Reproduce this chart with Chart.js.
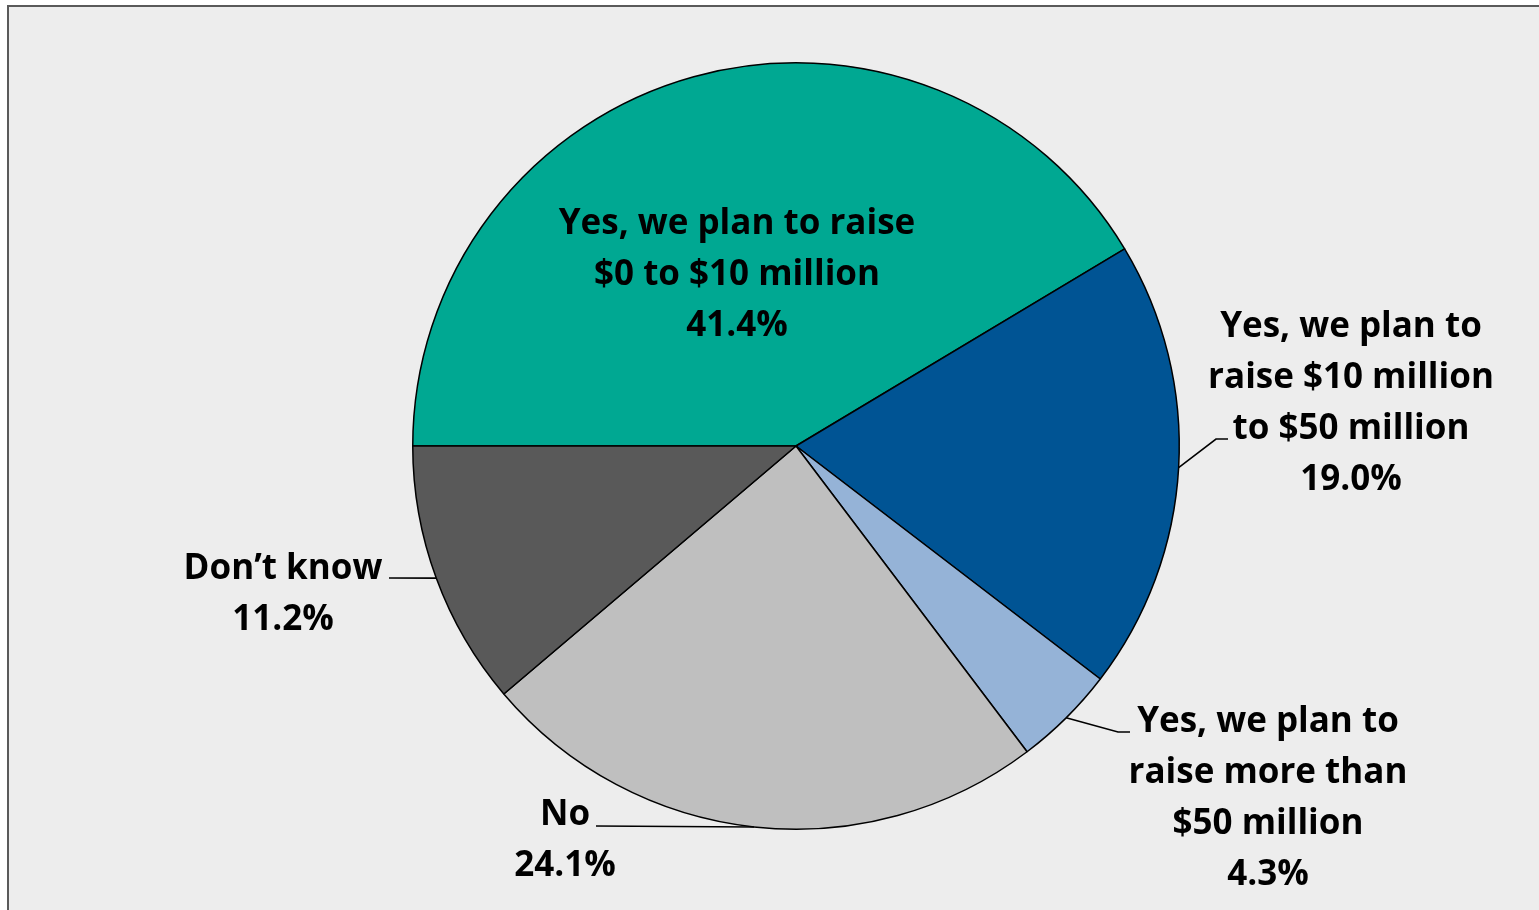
<!DOCTYPE html>
<html lang="en">
<head>
    <meta charset="UTF-8" />
    <title>Capital raising plans</title>
    <script src="https://cdn.jsdelivr.net/npm/chart.js"></script>
    <style>
        html, body {
            margin: 0;
            padding: 0;
            background: #ffffff;
            overflow: hidden;
        }
        .frame {
            position: absolute;
            left: 7px;
            top: 5px;
            width: 1560px;
            height: 940px;
            background: #ededed;
            border-top: 2px solid #5a5a5a;
            border-left: 2px solid #5a5a5a;
        }
        .chart-box {
            position: absolute;
            left: 0;
            top: 0;
            width: 1539px;
            height: 910px;
        }
    </style>
</head>
<body>
    <div class="frame"></div>
    <div class="chart-box">
        <canvas id="plans-chart"></canvas>
    </div>

    <script>
        const categories = [
            ['Yes, we plan to raise', '$0 to $10 million'],
            ['Yes, we plan to', 'raise $10 million', 'to $50 million'],
            ['Yes, we plan to', 'raise more than', '$50 million'],
            ['No'],
            ['Don\u2019t know']
        ];
        const shares = [41.4, 19.0, 4.3, 24.1, 11.2];
        const sliceColors = ['#00a892', '#005494', '#95b3d7', '#bfbfbf', '#595959'];

        // label block centre + optional leader path, all relative to the pie centre
        const labelLayout = [
            { x: -59, y: -171, leader: null },
            { x: 555, y: -42, leader: [[420, -7], [432, -7]] },
            { x: 472, y: 353, leader: [[322, 286], [334, 286]] },
            { x: -231, y: 395, leader: [[-200, 380]] },
            { x: -513, y: 149, leader: [[-407, 132]] }
        ];

        const pieLabels = {
            id: 'pieLabels',
            afterDatasetsDraw(chart) {
                const ctx = chart.ctx;
                const arcs = chart.getDatasetMeta(0).data;
                ctx.save();
                ctx.font = 'bold 35px "Open Sans", "Noto Sans", sans-serif';
                ctx.fillStyle = '#000';
                ctx.strokeStyle = '#000';
                ctx.lineWidth = 1.6;
                ctx.textAlign = 'center';
                ctx.textBaseline = 'middle';
                const lineH = 51;

                arcs.forEach((arc, i) => {
                    const cx = arc.x, cy = arc.y;
                    const lay = labelLayout[i];
                    const lines = categories[i].concat([shares[i].toFixed(1) + '%']);

                    if (lay.leader) {
                        const mid = (arc.startAngle + arc.endAngle) / 2;
                        ctx.beginPath();
                        ctx.moveTo(cx + Math.cos(mid) * arc.outerRadius, cy + Math.sin(mid) * arc.outerRadius);
                        lay.leader.forEach(p => ctx.lineTo(cx + p[0], cy + p[1]));
                        ctx.stroke();
                    }

                    const top = cy + lay.y - (lines.length - 1) * lineH / 2;
                    lines.forEach((txt, k) => {
                        ctx.fillText(txt, cx + lay.x, top + k * lineH);
                    });
                });
                ctx.restore();
            }
        };

        new Chart(document.getElementById('plans-chart'), {
            type: 'pie',
            data: {
                labels: categories.map(c => c.join(' ')),
                datasets: [{
                    data: shares,
                    backgroundColor: sliceColors,
                    borderColor: '#000',
                    borderWidth: 1.5
                }]
            },
            options: {
                responsive: true,
                maintainAspectRatio: false,
                animation: false,
                rotation: -90,
                layout: {
                    padding: { left: 412, right: 359, top: 62, bottom: 80 }
                },
                plugins: {
                    legend: { display: false },
                    tooltip: { enabled: false }
                }
            },
            plugins: [pieLabels]
        });
    </script>
</body>
</html>
